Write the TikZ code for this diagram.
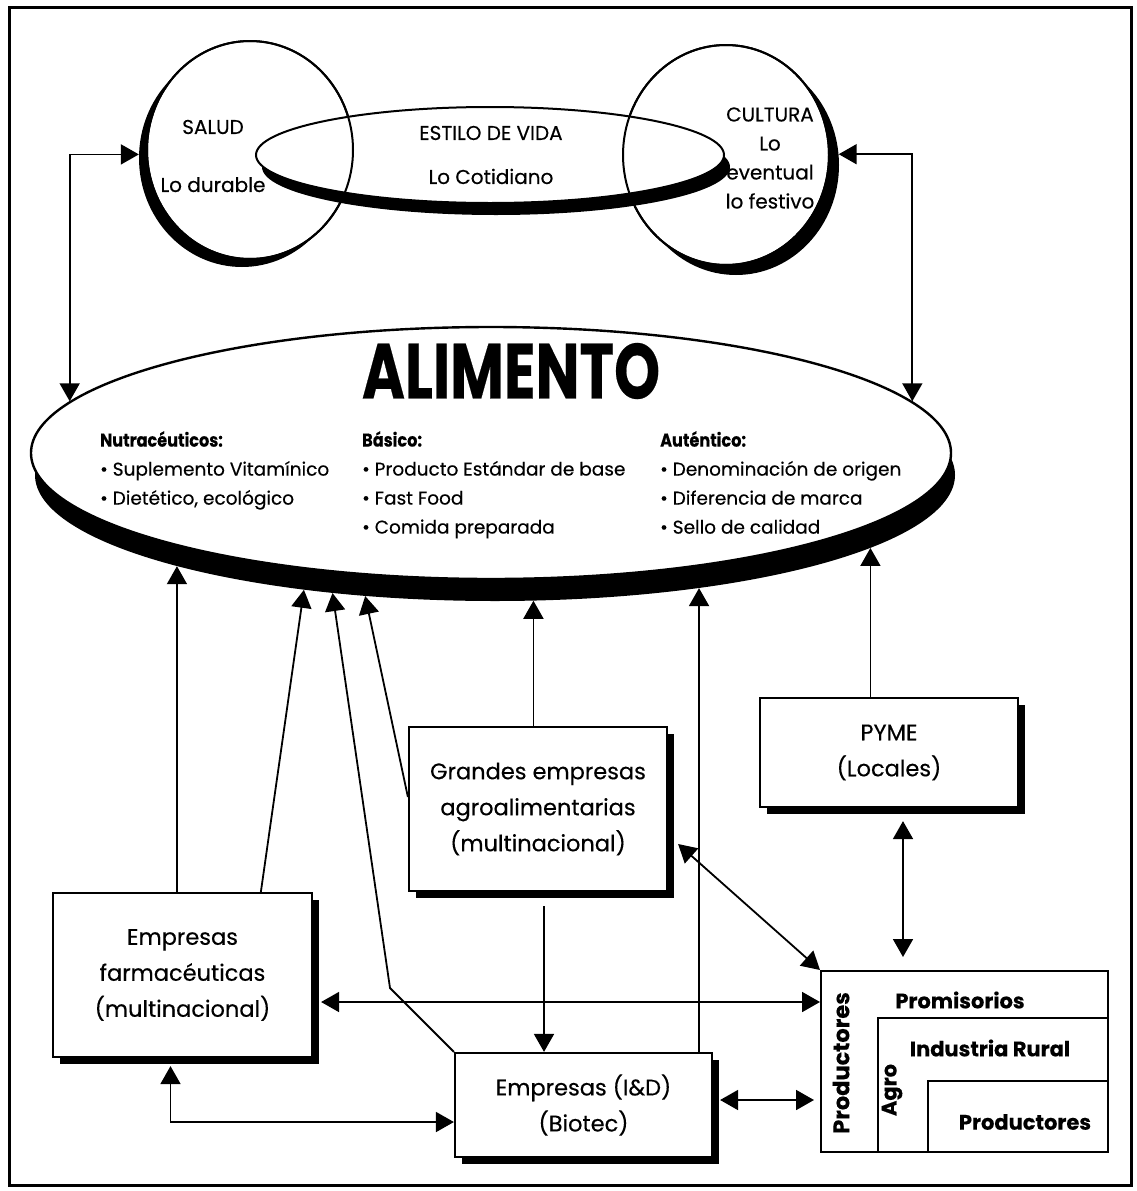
\documentclass[tikz,border=0pt]{standalone}
\usepackage{fontspec}
\setmainfont{Poppins}[FakeBold=0.35]
\usetikzlibrary{shapes.geometric,arrows.meta,calc,shadows}

\newcommand\ringfont{\fontsize{20}{29}\selectfont}
\newcommand\listfont{\fontsize{18.5}{29}\selectfont}
\newcommand\boxfont{\fontsize{22.5}{36}\selectfont}
\newcommand\prodfont{\fontsize{21}{24}\selectfont\bfseries}
\newcommand\headline[1]{\scalebox{0.87}[1]{\bfseries #1}}

\tikzset{
  conn/.style={line width=1.8pt},
  ring/.style={ellipse, inner sep=0pt, draw, fill=white, line width=2pt},
  shade/.style={ellipse, inner sep=0pt, fill=black},
  box/.style={rectangle, draw, fill=white, line width=2.2pt, inner sep=0pt,
    align=center, font=\boxfont,
    drop shadow={shadow xshift=7pt, shadow yshift=-7pt, opacity=1, fill=black}},
  plainbox/.style={rectangle, draw, line width=2pt, inner sep=0pt, anchor=north west},
  label/.style={inner sep=0pt, align=center},
}

\begin{document}
\begin{tikzpicture}[x=1pt, y=-1pt, >={Triangle[length=18pt,width=20pt]}]
\useasboundingbox (0,0) rectangle (1137,1191);
\fill[white] (0,0) rectangle (1137,1191);

% outer frame
\draw[line width=3pt] (9,7) rectangle (1131,1185);

% ---- top: health, lifestyle, culture ----
\node[shade, minimum width=206pt, minimum height=218pt] (sh-salud) at (242,158) {};
\node[shade, minimum width=206pt, minimum height=220pt] (sh-cultura) at (736,165) {};
\node[ring, minimum width=206pt, minimum height=218pt] (salud) at (250,150) {};
\node[ring, minimum width=206pt, minimum height=220pt] (cultura) at (726,155) {};
\node[shade, minimum width=468pt, minimum height=96pt] (sh-estilo) at (496,167) {};
\node[ring, minimum width=468pt, minimum height=96pt] (estilo) at (490,155) {};
% circle outlines stay visible through the lifestyle ellipse
\draw[line width=2pt] (salud.center) ellipse [x radius=103, y radius=109];
\draw[line width=2pt] (cultura.center) ellipse [x radius=103, y radius=110];

\node[label, font=\fontsize{20}{58}\selectfont] (salud-txt) at (213,156) {SALUD\\Lo durable};
\node[label, font=\fontsize{20}{44}\selectfont] (estilo-txt) at (491,155) {ESTILO DE VIDA\\Lo Cotidiano};
\node[label, font=\ringfont] (cultura-txt) at (770,158) {CULTURA\\Lo\\eventual\\lo festivo};

% ---- food ellipse ----
\node[shade, minimum width=920pt, minimum height=252pt] (sh-alim) at (495,475) {};
\node[ring, line width=2.4pt, minimum width=920pt, minimum height=252pt] (alimento) at (491,453) {};

\node[inner sep=0pt] (alim-title) at (511,371)
  {\scalebox{0.75}[1]{\fontsize{78}{80}\selectfont\bfseries ALIMENTO}};
\node[label, align=left, anchor=north west, font=\listfont] (col-nutra) at (100,431)
  {\headline{Nutracéuticos:}\\\textbullet\ Suplemento Vitamínico\\\textbullet\ Dietético, ecológico};
\node[label, align=left, anchor=north west, font=\listfont] (col-basico) at (362,431)
  {\headline{Básico:}\\\textbullet\ Producto Estándar de base\\\textbullet\ Fast Food\\\textbullet\ Comida preparada};
\node[label, align=left, anchor=north west, font=\listfont] (col-autent) at (660,431)
  {\headline{Auténtico:}\\\textbullet\ Denominación de origen\\\textbullet\ Diferencia de marca\\\textbullet\ Sello de calidad};

% ---- companies ----
\node[box, minimum width=259pt, minimum height=164pt] (farm) at (182.5,975)
  {Empresas\\farmacéuticas\\(multinacional)};
\node[box, minimum width=258pt, minimum height=164pt] (grandes) at (538,809)
  {Grandes empresas\\agroalimentarias\\(multinacional)};
\node[box, minimum width=257pt, minimum height=104pt] (biotec) at (583.5,1105)
  {Empresas (I\&D)\\(Biotec)};
\node[box, minimum width=258pt, minimum height=109pt] (pyme) at (889,752.5)
  {PYME\\(Locales)};

% ---- producers block ----
\node[plainbox, fill=white, minimum width=287pt, minimum height=181pt] (prod) at (820,970) {};
\node[plainbox, minimum width=230pt, minimum height=134pt] (agro) at (877,1017) {};
\node[plainbox, minimum width=180pt, minimum height=71pt] (prodin) at (927,1080) {};
\node[label, font=\prodfont] (t-prom) at (960,1000) {Promisorios};
\node[label, font=\prodfont] (t-ind) at (990,1048) {Industria Rural};
\node[label, font=\prodfont] (t-prodin) at (1025,1122) {Productores};
\node[label, font=\fontsize{22.5}{24}\selectfont\bfseries, rotate=90] (t-prodv) at (841,1063) {Productores};
\node[label, font=\prodfont, rotate=90] (t-agro) at (892,1090) {Agro};

% ---- connectors ----
\draw[conn,<->] (sh-salud.178) -| (alimento.173);
\draw[conn,<->] (sh-cultura.6) -| (alimento.7);

\draw[conn,->] (sh-alim.196 |- farm.north) -- (sh-alim.196);
\draw[conn,->] ($(farm.north)!0.6!(farm.north east)$) -- (sh-alim.211);
\coordinate (bend) at (390,988);
\draw[conn,->] (biotec.north west) -- (bend) -- (sh-alim.216);
\draw[conn,->] ($(grandes.west)+(0,-12)$) -- (sh-alim.223);
\draw[conn,->] (sh-alim.287 |- grandes.north) -- (sh-alim.287);
\draw[conn,->] (sh-alim.331 |- biotec.north) -- (sh-alim.331);
\draw[conn,->] (sh-alim.349 |- pyme.north) -- (sh-alim.349);

\coordinate (g-out) at ($(grandes.south)+(6,14)$);
\draw[conn,->] (g-out) -- (g-out |- biotec.north);

\coordinate (g-side) at ($(grandes.east)+(10,35)$);
\draw[conn,<->] (g-side) -- (prod.north west);

\coordinate (p-out) at ($(pyme.south)+(14,13)$);
\draw[conn,<->, shorten >=13pt] (p-out) -- (p-out |- prod.north);

\coordinate (f-side) at ($(farm.east)+(8,27)$);
\draw[conn,<->] (f-side) -- (f-side -| prod.west);

\coordinate (f-low) at ($(farm.south)+(-12,8)$);
\coordinate (b-in) at ($(biotec.west)+(0,17)$);
\draw[conn,<->] (f-low) |- (b-in);

\coordinate (b-side) at ($(biotec.east)+(7,-5)$);
\draw[conn,<->, shorten >=6pt] (b-side) -- (b-side -| prod.west);
\end{tikzpicture}
\end{document}
